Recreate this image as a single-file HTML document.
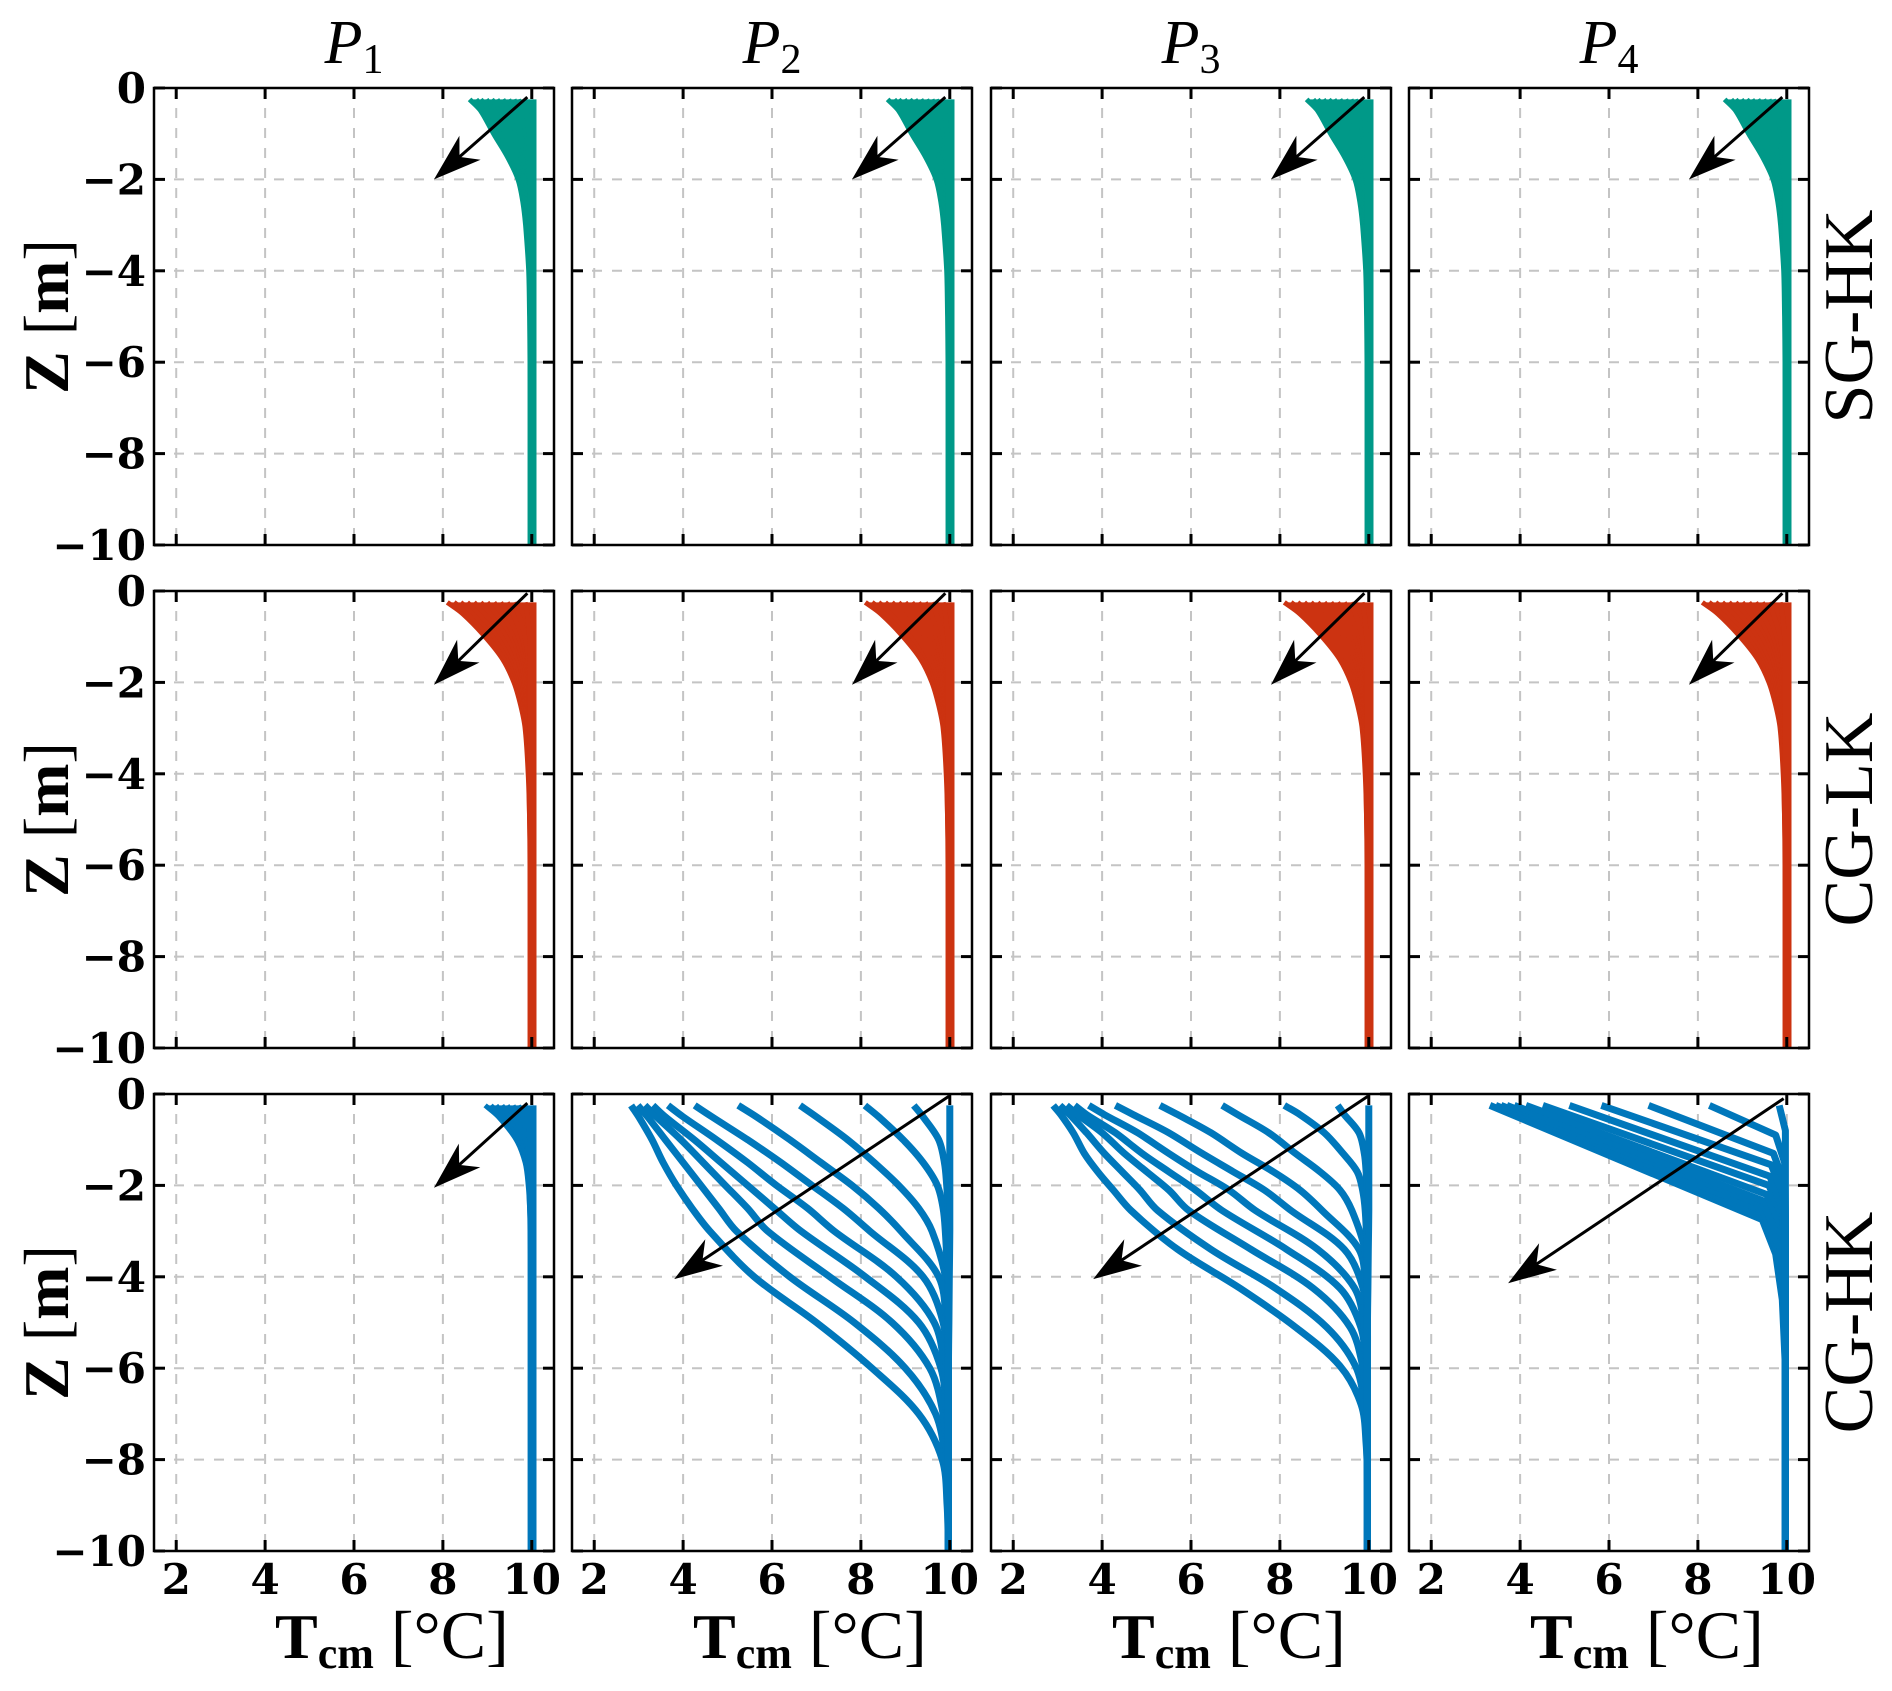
<!DOCTYPE html>
<html><head><meta charset="utf-8"><style>
html,body{margin:0;padding:0;background:#fff;}
svg{display:block;}
</style></head><body>
<svg id="fig" width="1892" height="1691" xmlns="http://www.w3.org/2000/svg"></svg>
<script>
const colTitles = ["1","2","3","4"];
const rowLabels = ["SG-HK","CG-LK","CG-HK"];
const rowColors = ["#009988","#CC3311","#0077BB"];
const xTicks = [2,4,6,8,10];
const yTicks = [0,-2,-4,-6,-8,-10];
const zGrid = [-0.25,-0.5,-1,-1.5,-2,-2.5,-3,-4,-5,-6,-7,-8,-9,-10];
const zGridP3 = [-0.25,-0.45,-0.85,-1.3,-1.7,-2.1,-2.55,-3.4,-4.25,-5.1,-5.95,-6.8,-7.65,-8.5,-10];

const fanSG = [
 [8.6,8.85,9.14,9.45,9.69,9.8,9.86,9.93,9.95,9.96,9.97],
 [8.75,8.95,9.22,9.5,9.72,9.83,9.88,9.94,9.96,9.97],
 [8.85,9.05,9.3,9.55,9.75,9.85,9.9,9.95,9.96,9.97],
 [8.98,9.15,9.4,9.62,9.78,9.87,9.91,9.95,9.97],
 [9.1,9.3,9.5,9.7,9.82,9.9,9.93,9.96,9.97],
 [9.22,9.38,9.58,9.75,9.85,9.91,9.94,9.96,9.97],
 [9.35,9.5,9.65,9.8,9.88,9.93,9.95,9.97],
 [9.48,9.6,9.73,9.85,9.9,9.94,9.96,9.97],
 [9.6,9.7,9.8,9.9,9.93,9.96,9.97],
 [9.7,9.78,9.87,9.93,9.95,9.97],
 [9.8,9.88,9.93,9.96,9.97],
 [10.05,10.05,10.05,10.05,10.05]
];
const fanLK = [
 [8.1,8.45,8.95,9.35,9.6,9.75,9.85,9.92,9.95,9.96,9.97],
 [8.25,8.58,9.05,9.42,9.65,9.79,9.87,9.93,9.95,9.97],
 [8.4,8.7,9.15,9.5,9.7,9.82,9.9,9.94,9.96,9.97],
 [8.55,8.82,9.25,9.56,9.74,9.85,9.91,9.95,9.97],
 [8.7,8.95,9.35,9.62,9.78,9.87,9.92,9.95,9.97],
 [8.85,9.08,9.45,9.69,9.82,9.9,9.94,9.96,9.97],
 [9.0,9.2,9.55,9.75,9.85,9.92,9.95,9.97],
 [9.15,9.33,9.62,9.8,9.89,9.94,9.96,9.97],
 [9.3,9.45,9.7,9.85,9.92,9.95,9.97],
 [9.45,9.58,9.78,9.89,9.94,9.96,9.97],
 [9.6,9.7,9.85,9.92,9.95,9.97],
 [9.85,9.9,9.95,9.97],
 [10.05,10.05,10.05,10.05]
];
const fanHK1 = [
 [8.95,9.25,9.65,9.85,9.92,9.95,9.96,9.97],
 [9.08,9.33,9.7,9.87,9.93,9.95,9.97],
 [9.2,9.4,9.75,9.9,9.94,9.96,9.97],
 [9.33,9.5,9.8,9.91,9.95,9.97],
 [9.45,9.6,9.85,9.93,9.96,9.97],
 [9.58,9.7,9.88,9.94,9.97],
 [9.7,9.8,9.9,9.95,9.97],
 [9.85,9.9,9.95,9.97],
 [10.05,10.05,10.05]
];
const curvesP2 = [
 [2.83,3.0,3.3,3.55,3.85,4.2,4.6,5.6,7.0,8.25,9.3,9.83,9.94,9.97],
 [2.98,3.2,3.6,4.0,4.4,4.8,5.2,6.4,7.85,9.0,9.68,9.9,9.95,9.97],
 [3.14,3.4,3.95,4.45,4.95,5.45,5.9,7.3,8.7,9.55,9.85,9.93,9.96,9.97],
 [3.32,3.6,4.25,4.85,5.45,6.05,6.65,8.1,9.3,9.8,9.92,9.95,9.97],
 [3.66,4.0,4.75,5.45,6.1,6.8,7.4,8.8,9.65,9.88,9.94,9.97],
 [4.26,4.65,5.45,6.2,6.9,7.6,8.2,9.4,9.85,9.92,9.96,9.97],
 [5.24,5.65,6.4,7.1,7.8,8.4,8.9,9.75,9.92,9.96,9.97],
 [6.63,7.0,7.7,8.3,8.85,9.3,9.6,9.9,9.95,9.97],
 [8.09,8.4,8.95,9.4,9.72,9.85,9.9,9.95,9.97],
 [9.19,9.4,9.75,9.88,9.93,9.96,9.97],
 [10.0,10.0,10.0,10.0,10.0,10.0,10.0,9.99,9.98,9.97]
];
const curvesP3 = [
 [2.9,3.07,3.35,3.6,3.9,4.25,4.65,5.7,7.1,8.35,9.35,9.83,9.94,9.97,9.97],
 [3.05,3.27,3.65,4.05,4.45,4.85,5.25,6.45,7.9,9.05,9.7,9.9,9.95,9.97,9.97],
 [3.2,3.45,4.0,4.5,5.0,5.5,5.95,7.35,8.75,9.58,9.86,9.94,9.97],
 [3.38,3.65,4.3,4.9,5.5,6.1,6.7,8.15,9.35,9.82,9.93,9.96,9.97],
 [3.7,4.05,4.8,5.5,6.15,6.85,7.45,8.85,9.68,9.9,9.95,9.97],
 [4.3,4.7,5.5,6.25,6.95,7.65,8.25,9.45,9.87,9.94,9.97],
 [5.3,5.7,6.45,7.15,7.85,8.45,8.95,9.78,9.93,9.97],
 [6.7,7.05,7.75,8.35,8.9,9.35,9.62,9.91,9.96,9.97],
 [8.1,8.45,9.0,9.42,9.74,9.86,9.92,9.96,9.97],
 [9.3,9.45,9.78,9.9,9.94,9.96,9.97],
 [10.0,10.0,10.0,10.0,10.0,10.0,10.0,9.99,9.98,9.97]
];
const curvesP4 = [
 [[3.32,-0.25],[9.45,-2.75],[9.75,-3.5],[9.9,-4.5],[9.97,-6],[9.97,-10]],
 [[3.45,-0.25],[9.45,-2.65],[9.78,-3.4],[9.92,-4.3],[9.97,-6],[9.97,-10]],
 [[3.57,-0.25],[9.45,-2.55],[9.8,-3.3],[9.93,-4.2],[9.97,-6],[9.97,-10]],
 [[3.70,-0.25],[9.5,-2.45],[9.82,-3.2],[9.94,-4.0],[9.97,-6],[9.97,-10]],
 [[3.87,-0.25],[9.5,-2.35],[9.85,-3.0],[9.95,-3.8],[9.97,-6],[9.97,-10]],
 [[4.13,-0.25],[9.55,-2.2],[9.87,-2.9],[9.95,-3.6],[9.97,-6],[9.97,-10]],
 [[4.51,-0.25],[9.6,-2.0],[9.9,-2.7],[9.96,-3.4],[9.97,-10]],
 [[5.11,-0.25],[9.62,-1.8],[9.9,-2.5],[9.96,-3.2],[9.97,-10]],
 [[5.83,-0.25],[9.65,-1.55],[9.92,-2.2],[9.97,-3],[9.97,-10]],
 [[6.89,-0.25],[9.7,-1.3],[9.93,-1.9],[9.97,-2.7],[9.97,-10]],
 [[8.26,-0.25],[9.75,-0.9],[9.95,-1.5],[9.97,-2.5],[9.97,-10]],
 [[9.83,-0.25],[9.97,-0.8],[9.97,-10]]
];
const arrowStarts = [
 [[9.9,-0.2],[9.9,-0.2],[9.9,-0.2],[9.9,-0.2]],
 [[9.9,-0.05],[9.9,-0.05],[9.9,-0.05],[9.9,-0.05]],
 [[9.9,-0.2],[9.98,-0.05],[9.98,-0.05],[9.93,-0.1]]
];
const arrowEnds = [
 [[7.8,-2.0],[7.8,-2.0],[7.8,-2.0],[7.8,-2.0]],
 [[7.8,-2.05],[7.8,-2.05],[7.8,-2.05],[7.8,-2.05]],
 [[7.8,-2.05],[3.8,-4.05],[3.8,-4.05],[3.73,-4.14]]
];

const NS = "http://www.w3.org/2000/svg";
const svg = document.getElementById("fig");
const COLS = [154,572,991,1409], ROWS = [88,591,1094], W = 400, H = 457;
const TMIN = 1.5, TMAX = 10.5;
function xs(T,c){ return COLS[c] + (T-TMIN)/(TMAX-TMIN)*W; }
function ys(z,r){ return ROWS[r] + (-z)/10*H; }
function mk(tag, attrs, parent){ const e=document.createElementNS(NS,tag); for(const k in attrs) e.setAttribute(k,attrs[k]); (parent||svg).appendChild(e); return e; }

function toPoints(curve, grid){
  if (Array.isArray(curve[0])) return curve;
  const pts = [];
  for (let i=0;i<grid.length;i++){
    const T = i<curve.length ? curve[i] : curve[curve.length-1];
    pts.push([T, grid[i]]);
  }
  return pts;
}
function dist(a,b){ return Math.hypot(a[0]-b[0],a[1]-b[1]) || 1e-6; }
function smoothPath(P, move){
  let d = (move?"M":"L")+P[0][0].toFixed(1)+","+P[0][1].toFixed(1);
  const n = P.length;
  const tang = P.map((p,i)=>{
    if (i===0 || i===n-1) return [0,0];
    const a=P[i-1], b=P[i+1];
    const s = dist(a,p)+dist(p,b);
    return [(b[0]-a[0])/s, (b[1]-a[1])/s];
  });
  for (let i=0;i<n-1;i++){
    const p1=P[i], p2=P[i+1], L=dist(p1,p2);
    const m1 = i===0 ? [(p2[0]-p1[0])/L,(p2[1]-p1[1])/L] : tang[i];
    const m2 = i+1===n-1 ? [(p2[0]-p1[0])/L,(p2[1]-p1[1])/L] : tang[i+1];
    const c1=[p1[0]+m1[0]*L/3, p1[1]+m1[1]*L/3];
    const c2=[p2[0]-m2[0]*L/3, p2[1]-m2[1]*L/3];
    d += "C"+c1[0].toFixed(1)+","+c1[1].toFixed(1)+" "+c2[0].toFixed(1)+","+c2[1].toFixed(1)+" "+p2[0].toFixed(1)+","+p2[1].toFixed(1);
  }
  return d;
}

function panelCurves(r,c){
  if (r===0) return {list:fanSG, grid:zGrid, fan:true, smooth:true};
  if (r===1) return {list:fanLK, grid:zGrid, fan:true, smooth:true};
  if (c===0) return {list:fanHK1, grid:zGrid, fan:true, smooth:true};
  if (c===1) return {list:curvesP2, grid:zGrid, fan:false, smooth:true};
  if (c===2) return {list:curvesP3, grid:zGridP3, fan:false, smooth:true};
  return {list:curvesP4, grid:zGrid, fan:false, smooth:false};
}

for (let r=0;r<3;r++){
  for (let c=0;c<4;c++){
    const g = mk("g",{});
    
    
    const x0=COLS[c], y0=ROWS[r];
    xTicks.forEach(t=>{
      const l = mk("line",{x1:xs(t,c),x2:xs(t,c),y1:y0,y2:y0+H,stroke:"#c4c4c4","stroke-width":2,"stroke-dasharray":"10,10"},g);
      
      
    });
    yTicks.forEach(t=>{
      const l = mk("line",{x1:x0,x2:x0+W,y1:ys(t,r),y2:ys(t,r),stroke:"#c4c4c4","stroke-width":2,"stroke-dasharray":"10,10"},g);
      
      
    });
    const pc = panelCurves(r,c);
    const col = rowColors[r];
    const ptsList = pc.list.map(cv=>toPoints(cv, pc.grid).map(p=>[xs(p[0],c), ys(p[1],r)]));
    if (pc.fan){
      const a = ptsList[0], b = ptsList[ptsList.length-1];
      let d = smoothPath(a,true);
      d += smoothPath(b.slice().reverse(),false) + "Z";
      const f = mk("path",{d:d,fill:col,stroke:"none"},g);
      
      
    }
    ptsList.forEach((pts,i)=>{
      const d = pc.smooth ? smoothPath(pts,true) : pts.map((p,j)=>(j?"L":"M")+p[0].toFixed(1)+","+p[1].toFixed(1)).join("");
      const p = mk("path",{d:d,fill:"none",stroke:col,"stroke-width":pc.fan?5:7,"stroke-linejoin":"round"},g);
      
      
    });
    const s = arrowStarts[r][c], e = arrowEnds[r][c];
    const sx=xs(s[0],c), sy=ys(s[1],r), ex=xs(e[0],c), ey=ys(e[1],r);
    const dx=ex-sx, dy=ey-sy, len=Math.hypot(dx,dy), ux=dx/len, uy=dy/len, nx=-uy, ny=ux;
    const HL=48, HW=16, NOTCH=34;
    const ag = mk("g",{},g);
    
    
    mk("line",{x1:sx,y1:sy,x2:ex-ux*NOTCH,y2:ey-uy*NOTCH,stroke:"#000","stroke-width":3},ag);
    const bx=ex-ux*HL, by=ey-uy*HL;
    mk("polygon",{points:[[ex,ey],[bx+nx*HW,by+ny*HW],[ex-ux*NOTCH,ey-uy*NOTCH],[bx-nx*HW,by-ny*HW]].map(p=>p[0].toFixed(1)+","+p[1].toFixed(1)).join(" "),fill:"#000"},ag);
    xTicks.forEach(t=>{
      const x=xs(t,c);
      mk("line",{x1:x,x2:x,y1:y0,y2:y0+11,stroke:"#000","stroke-width":3},g);
      mk("line",{x1:x,x2:x,y1:y0+H,y2:y0+H-11,stroke:"#000","stroke-width":3},g);
    });
    yTicks.forEach(t=>{
      const y=ys(t,r);
      mk("line",{x1:x0,x2:x0+11,y1:y,y2:y,stroke:"#000","stroke-width":3},g);
      mk("line",{x1:x0+W,x2:x0+W-11,y1:y,y2:y,stroke:"#000","stroke-width":3},g);
    });
    const fr = mk("rect",{x:x0,y:y0,width:W,height:H,fill:"none",stroke:"#000","stroke-width":2.5},g);
    
    
    if (c===0){
      yTicks.forEach(t=>{
        const tx = mk("text",{x:x0-8,y:ys(t,r)+15,"text-anchor":"end","font-family":"DejaVu Serif, Liberation Serif, serif","font-weight":"bold","font-size":42},g);
        tx.textContent = t===0 ? "0" : "\u2212"+Math.abs(t);
        
        
      });
    }
    if (r===2){
      xTicks.forEach(t=>{
        const tx = mk("text",{x:xs(t,c),y:1594,"text-anchor":"middle","font-family":"DejaVu Serif, Liberation Serif, serif","font-weight":"bold","font-size":42},g);
        tx.textContent = String(t);
        
        
      });
    }
  }
}

colTitles.forEach((n,c)=>{
  const t = mk("text",{x:COLS[c]+W/2,y:63,"text-anchor":"middle","font-family":"Liberation Serif, serif","font-size":62});
  t.innerHTML = '<tspan font-style="italic">P</tspan><tspan font-size="42" dy="10">'+n+'</tspan>';
  
  
});
COLS.forEach((x0,c)=>{
  const t = mk("text",{x:x0+121,y:1658,"font-family":"Liberation Serif, serif","font-size":64});
  t.innerHTML = '<tspan font-weight="bold">T</tspan><tspan font-weight="bold" font-size="44" dy="10">cm</tspan><tspan dy="-10" font-size="68"> [°C]</tspan>';
  
  
});
ROWS.forEach((y0,r)=>{
  const cy = y0 + H/2;
  const t = mk("text",{x:0,y:0,"text-anchor":"middle","font-family":"Liberation Serif, serif","font-size":64,transform:"translate(68,"+cy+") rotate(-90)"});
  t.innerHTML = '<tspan font-weight="bold">Z</tspan> [<tspan font-weight="bold">m</tspan>]';
  
  
  const rl = mk("text",{x:0,y:0,"text-anchor":"middle","font-family":"Liberation Serif, serif","font-size":70,transform:"translate(1872,"+cy+") rotate(-90)"});
  rl.textContent = rowLabels[r];
  
  
});
</script>
</body></html>
